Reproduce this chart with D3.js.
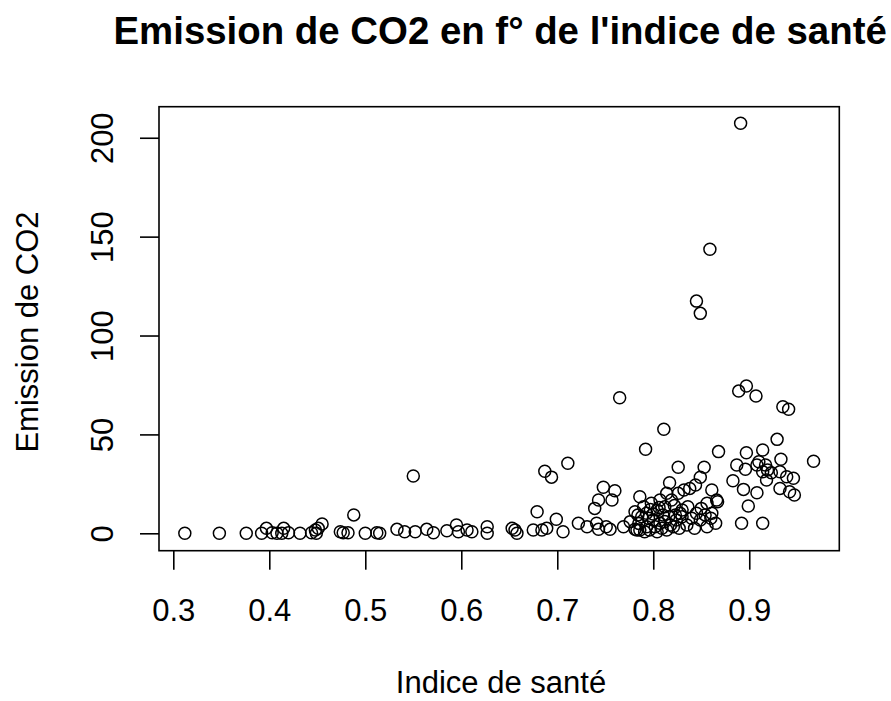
<!DOCTYPE html>
<html>
<head>
<meta charset="utf-8">
<script src="https://cdn.jsdelivr.net/npm/d3@7"></script>
<style>
  html, body { margin: 0; padding: 0; background: #fff; }
  svg { display: block; }
  text { font-family: "Liberation Sans", Arial, sans-serif; fill: #000; }
</style>
</head>
<body>
<svg id="chart" width="891" height="701"></svg>
<script>
// ---- Data ----
const healthIndex = [
  0.312, 0.348, 0.376, 0.392, 0.397, 0.403, 0.408, 0.413, 0.415, 0.420,
  0.432, 0.444, 0.448, 0.449, 0.451, 0.455, 0.474, 0.477, 0.482, 0.488,
  0.500, 0.512, 0.515, 0.533, 0.541, 0.550, 0.552, 0.564, 0.571, 0.585,
  0.595, 0.597, 0.606, 0.611, 0.627, 0.627, 0.653, 0.656, 0.658, 0.675,
  0.679, 0.684, 0.687, 0.689, 0.694, 0.699, 0.706, 0.711, 0.722, 0.731,
  0.739, 0.741, 0.743, 0.743, 0.748, 0.751, 0.755, 0.757, 0.760, 0.765,
  0.769, 0.776, 0.781, 0.781, 0.783, 0.784, 0.786, 0.786, 0.788, 0.790,
  0.791, 0.792, 0.793, 0.793, 0.795, 0.798, 0.800, 0.804, 0.804, 0.807,
  0.807, 0.810, 0.811, 0.812, 0.814, 0.814, 0.816, 0.817, 0.819, 0.821,
  0.823, 0.824, 0.826, 0.826, 0.828, 0.830, 0.830, 0.832, 0.838, 0.845,
  0.844, 0.845, 0.849, 0.849, 0.849, 0.850, 0.853, 0.854, 0.856, 0.856,
  0.859, 0.861, 0.861, 0.865, 0.866, 0.867, 0.868, 0.883, 0.887, 0.889,
  0.891, 0.892, 0.894, 0.896, 0.897, 0.897, 0.899, 0.907, 0.908, 0.908,
  0.910, 0.914, 0.914, 0.914, 0.917, 0.918, 0.919, 0.923, 0.929, 0.932,
  0.932, 0.933, 0.935, 0.939, 0.941, 0.942, 0.946, 0.947, 0.967,
  0.802, 0.809, 0.796, 0.818, 0.800, 0.806, 0.812, 0.785, 0.797, 0.822,
  0.827, 0.835, 0.840, 0.836, 0.860, 0.843
];
const co2Emission = [
  0, 0, 0, 0, 2.5, 0.3, 0, 0, 2.5, 0.3,
  0, 0.3, 1.7, 0, 2.5, 4.7, 0.8, 0.3, 0.3, 9.3,
  0, 0.3, 0, 2, 0.8, 29, 0.8, 2, 0.3, 1.3,
  4.2, 0.8, 1.7, 0.8, 3.3, 0, 2.5, 1.7, 0, 1.7,
  10.9, 1.7, 31.4, 2.5, 28.4, 7.1, 0.8, 35.4, 5.1, 3.3,
  12.6, 5.1, 16.8, 2, 23.3, 3.3, 2, 16.8, 21.5, 68.5,
  3.3, 5.9, 10.9, 2, 1.7, 9.3, 18.5, 1.7, 8.4, 13.4,
  0.8, 42.5, 10.1, 3.3, 7.6, 15.2, 6.7, 11.8, 0.8, 16.8,
  5.1, 9.3, 52.6, 13.4, 20.2, 1.7, 8.4, 25.6, 16.8, 3.3,
  9.3, 6.7, 33.4, 20.2, 10.1, 11.8, 8.4, 21.9, 22.7, 117.4,
  24.4, 10.1, 111.2, 28.3, 6.7, 12.6, 33.4, 9.3, 15.2, 3.3,
  143.6, 21.9, 10.1, 5.1, 16.8, 16, 41.3, 26.6, 34.5, 71.9,
  207.3, 5.1, 22.2, 32.4, 40.7, 74.5, 13.8, 69.4, 20.5, 34.5,
  36.2, 42.1, 31.1, 5.1, 34.5, 26.9, 32, 30.6, 47.5, 31.1,
  22.7, 37.4, 64, 28.6, 62.7, 21, 27.8, 19.4, 36.4,
  3.3, 2.5, 1.7, 4.2, 9.8, 13, 6, 5, 12, 14,
  2.5, 4.2, 7.6, 13.4, 7.6, 2.5
];
const xTicks = [0.3, 0.4, 0.5, 0.6, 0.7, 0.8, 0.9];
const yTicks = [0, 50, 100, 150, 200];
const titleText = "Emission de CO2 en f\u00b0 de l'indice de sant\u00e9";
const xLabel = "Indice de sant\u00e9";
const yLabel = "Emission de CO2";

// ---- Layout ----
const box = { left: 159, right: 839.3, top: 106.7, bottom: 550.7 };
const fontSize = 31;

const svg = d3.select("#chart");

// R-style 4% padded domains
const x = d3.scaleLinear().domain([0.2851, 0.9938]).range([box.left, box.right]);
const y = d3.scaleLinear().domain([-8.8, 215.7]).range([box.bottom, box.top]);

// Points
svg.append("g")
  .selectAll("circle")
  .data(healthIndex.map((h, i) => [h, co2Emission[i]]))
  .join("circle")
  .attr("cx", d => x(d[0]))
  .attr("cy", d => y(d[1]))
  .attr("r", 6)
  .attr("fill", "none")
  .attr("stroke", "#000")
  .attr("stroke-width", 1.5);

// Box
svg.append("rect")
  .attr("x", box.left).attr("y", box.top)
  .attr("width", box.right - box.left).attr("height", box.bottom - box.top)
  .attr("fill", "none").attr("stroke", "#000").attr("stroke-width", 1.6);

// X axis
const gx = svg.append("g")
  .attr("transform", `translate(0,${box.bottom})`)
  .call(d3.axisBottom(x).tickValues(xTicks).tickSize(19).tickFormat(d3.format(".1f")));
gx.select(".domain").remove();
gx.selectAll(".tick line").attr("stroke", "#000").attr("stroke-width", 1.6);
gx.selectAll(".tick text")
  .attr("y", 620.7 - box.bottom).attr("dy", null)
  .attr("font-size", fontSize).attr("font-family", "Liberation Sans, Arial, sans-serif")
  .attr("fill", "#000");

// Y axis
const gy = svg.append("g")
  .attr("transform", `translate(${box.left},0)`)
  .call(d3.axisLeft(y).tickValues(yTicks).tickSize(19));
gy.select(".domain").remove();
gy.selectAll(".tick line").attr("stroke", "#000").attr("stroke-width", 1.6);
gy.selectAll(".tick text")
  .attr("transform", "rotate(-90)")
  .attr("x", 0).attr("y", 112.7 - box.left).attr("dy", null)
  .attr("text-anchor", "middle")
  .attr("font-size", fontSize).attr("font-family", "Liberation Sans, Arial, sans-serif")
  .attr("fill", "#000");

// Title
svg.append("text")
  .attr("x", (box.left + box.right) / 2 + 1).attr("y", 44)
  .attr("text-anchor", "middle")
  .attr("font-size", 38.4).attr("font-weight", "bold")
  .text(titleText);

// Axis labels
svg.append("text")
  .attr("x", 501).attr("y", 693)
  .attr("text-anchor", "middle")
  .attr("font-size", fontSize)
  .text(xLabel);

svg.append("text")
  .attr("transform", `translate(38.3,332) rotate(-90)`)
  .attr("text-anchor", "middle")
  .attr("font-size", fontSize)
  .text(yLabel);
</script>
</body>
</html>
